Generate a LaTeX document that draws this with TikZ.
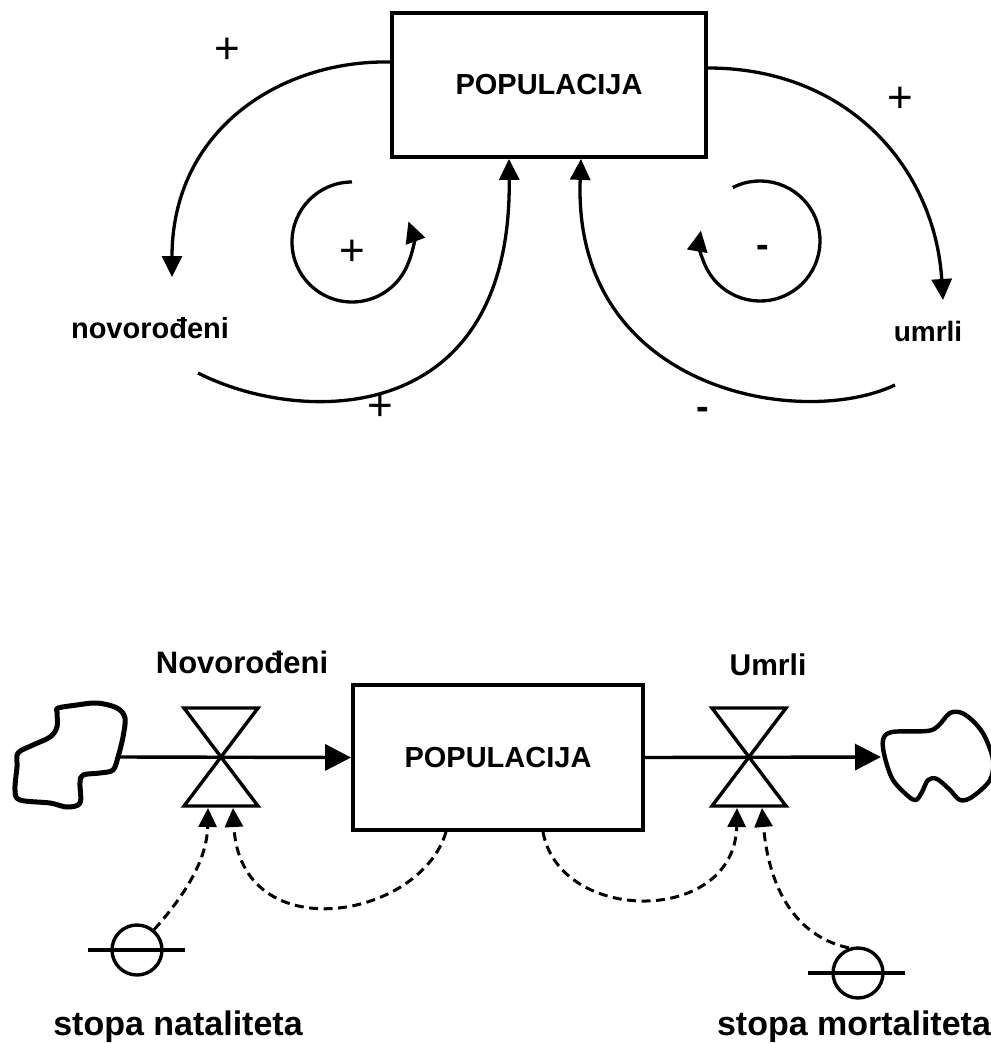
\documentclass[tikz,border=0pt]{standalone}
\usepackage{fontspec}
\setmainfont{Liberation Sans}
\usetikzlibrary{arrows.meta,calc}
\begin{document}
\begin{tikzpicture}[x=1pt,y=1pt,
  stock/.style={draw, line width=3.8pt, inner sep=0pt, font=\bfseries\fontsize{29}{34}\selectfont},
  lbl/.style={inner sep=0pt, anchor=base, font=\bfseries\fontsize{29}{34}\selectfont},
  sign/.style={inner sep=0pt, anchor=base, font=\fontsize{44}{46}\selectfont},
  msign/.style={inner sep=0pt, anchor=base, font=\bfseries\fontsize{38}{40}\selectfont},
  link/.style={line width=3.3pt, -{Triangle[length=21pt,width=20pt]}},
  flow/.style={line width=3.4pt, -{Triangle[length=26pt,width=26pt]}},
  valve/.style={line width=3.4pt, line join=miter},
  cloud/.style={line width=5pt, line join=round},
  aux/.style={draw, circle, line width=3.4pt, minimum size=50pt, inner sep=0pt},
  auxline/.style={line width=3.4pt},
  info/.style={line width=3pt, dash pattern=on 9pt off 5.5pt, -{Triangle[length=19pt,width=18pt]}},
]
\useasboundingbox (0,0) rectangle (990,-1043);

% ---------------- causal loop diagram ----------------
\node[stock, minimum width=314pt, minimum height=144pt] (pop1) at (549,-85) {POPULACIJA};
\node[lbl] (nov) at (150,-338) {novorođeni};
\node[lbl, font=\bfseries\fontsize{28}{32}\selectfont] (umr) at (928,-341) {umrli};

\coordinate (nIn) at (172,-277);
\coordinate (nOut) at (198,-373);
\coordinate (uIn) at (943,-300);
\coordinate (uOut) at (895,-385);

\draw[link] ($(pop1.west)+(0,23)$) .. controls (280,-60) and (172,-130) .. (nIn);
\draw[link] (nOut) .. controls (300,-425) and (512,-430) .. ($(pop1.south)+(-40,0)$);
\draw[link] ($(pop1.east)+(0,17)$) .. controls (850,-68) and (935,-170) .. (uIn);
\draw[link] (uOut) .. controls (800,-430) and (572,-390) .. ($(pop1.south)+(32,0)$);

\coordinate (loopL) at (352,-242);
\coordinate (loopR) at (760,-241);
\draw[link] ($(loopL)+(90:60pt)$) arc[start angle=90, end angle=380, radius=60pt];
\draw[link] ($(loopR)+(117:60pt)$) arc[start angle=117, end angle=-190, radius=60pt];

\node[sign] (p1) at (227,-63.5) {+};
\node[sign] (p2) at (380,-420.5) {+};
\node[sign] (p3) at (352,-265.5) {+};
\node[sign] (p4) at (900,-112.5) {+};
\node[msign] (m1) at (703,-419.5) {-};
\node[msign] (m2) at (763,-257.5) {-};

% ---------------- stock and flow diagram ----------------
\node[stock, minimum width=290pt, minimum height=145pt] (pop2) at (498,-757.5) {POPULACIJA};

\draw[cloud] plot[smooth cycle, tension=0.55] coordinates {(58,-708) (77,-705) (97,-703) (117,-708) (125,-718) (123,-737) (118,-757) (113,-770) (100,-773) (83,-775) (80,-783) (80,-803) (67,-807) (50,-803) (20,-800) (15,-790) (17,-767) (18,-753) (33,-745) (50,-737) (57,-727) (57,-712)};
\draw[cloud, line width=4.4pt] plot[smooth cycle, tension=0.55] coordinates {(883,-740) (892,-732) (927,-731) (938,-726) (950,-713) (962,-713) (975,-723) (985,-737) (993,-760) (990,-780) (972,-797) (960,-800) (950,-790) (937,-779) (928,-780) (922,-792) (916,-800) (908,-796) (893,-780) (885,-758)};

\coordinate (c1) at (118,-757);
\coordinate (c2) at (881,-757);
\coordinate (v1) at (221,-757);
\coordinate (v2) at (749,-757);

\draw[flow] (c1) -- (pop2.west);
\draw[flow] (pop2.east) -- (c2);

\draw[valve] ($(v1)+(-37,49)$) -- ++(74,0) -- ($(v1)+(-37,-49)$) -- ++(74,0) -- cycle;
\draw[valve] ($(v2)+(-37,49)$) -- ++(74,0) -- ($(v2)+(-37,-49)$) -- ++(74,0) -- cycle;

\node[lbl, font=\bfseries\fontsize{31}{36}\selectfont] (nlab) at (242,-673) {Novorođeni};
\node[lbl, font=\bfseries\fontsize{30}{35}\selectfont] (ulab) at (768,-675) {Umrli};

\node[aux] (sn) at (137,-950) {};
\draw[auxline] ($(sn)+(-49,0)$) -- ($(sn)+(48,0)$);
\node[aux] (sm) at (858,-973) {};
\draw[auxline] ($(sm)+(-50,0)$) -- ($(sm)+(47,0)$);

\node[lbl, font=\bfseries\fontsize{34}{40}\selectfont] (snl) at (178,-1035) {stopa nataliteta};
\node[lbl, font=\bfseries\fontsize{34}{40}\selectfont] (sml) at (854,-1035) {stopa mortaliteta};

\coordinate (tA) at ($(v1)+(-13,-51)$);
\coordinate (tB) at ($(v1)+(12,-51)$);
\coordinate (tC) at ($(v2)+(-12,-51)$);
\coordinate (tD) at ($(v2)+(13,-51)$);

\draw[info] (sn.50) .. controls (185,-895) and (207,-860) .. (tA);
\draw[info] ($(pop2.south)+(-52,0)$) .. controls (420,-920) and (240,-950) .. (tB);
\draw[info] ($(pop2.south)+(45,0)$) .. controls (560,-925) and (735,-925) .. (tC);
\draw[info] (sm.110) .. controls (790,-935) and (768,-880) .. (tD);
\end{tikzpicture}
\end{document}
